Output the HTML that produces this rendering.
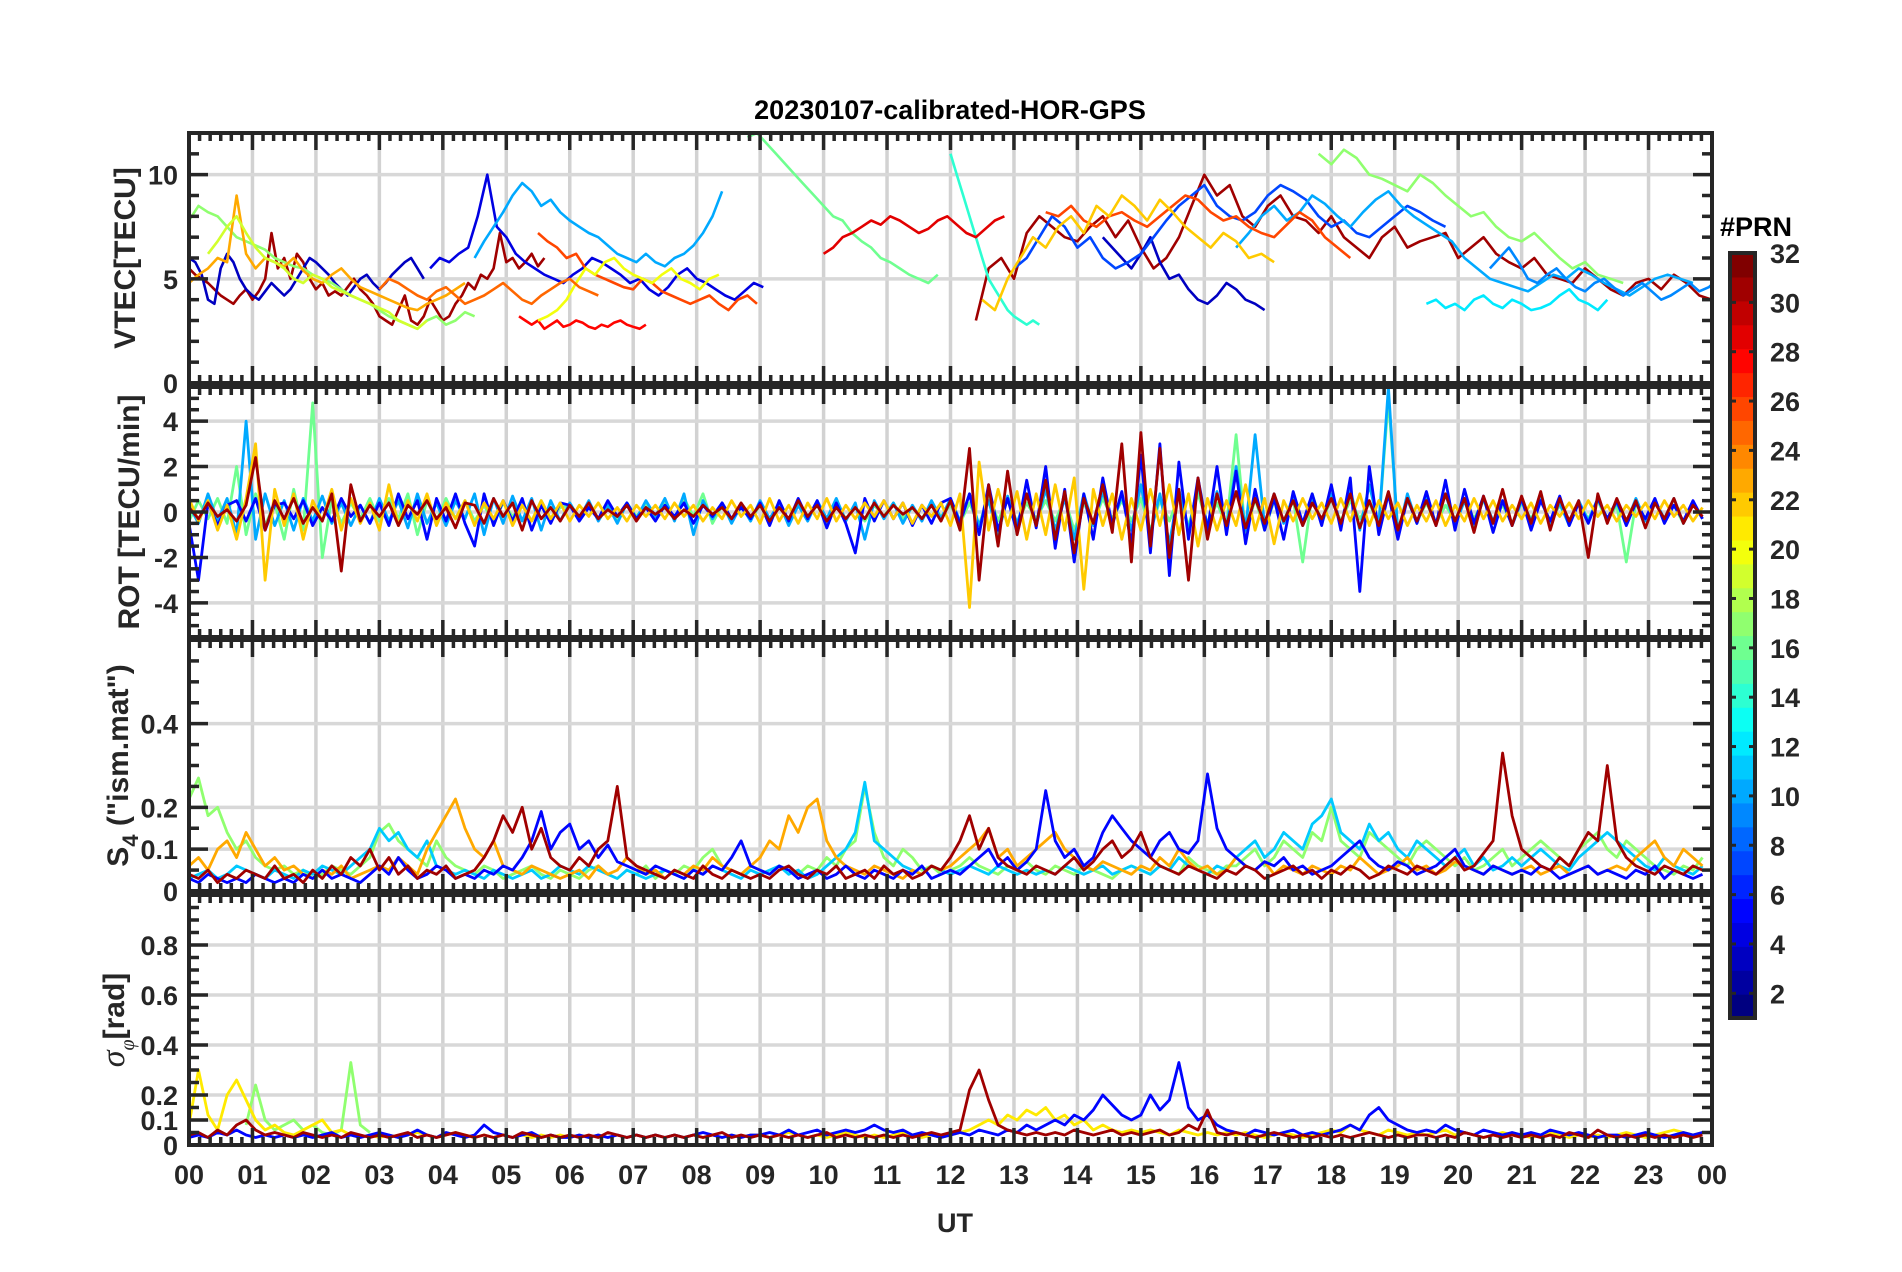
<!DOCTYPE html>
<html><head><meta charset="utf-8">
<style>
html,body{margin:0;padding:0;background:#fff;}
svg{display:block;font-family:"Liberation Sans",Arial,sans-serif;font-weight:bold;}
</style></head>
<body>
<svg id="fig" width="1902" height="1272" viewBox="0 0 1902 1272" xmlns="http://www.w3.org/2000/svg">
<rect width="1902" height="1272" fill="#fff"/>
<text x="950" y="119" font-size="27" text-anchor="middle" fill="#000">20230107-calibrated-HOR-GPS</text>
<g id="panels"></g>
<text x="955" y="1232" font-size="27" text-anchor="middle" fill="#262626">UT</text>
<text x="1720" y="236" font-size="27" fill="#000">#PRN</text>
<g id="cbar"></g>
</svg>
<script>
// ---------- data ----------
const hourTicks = [0,1,2,3,4,5,6,7,8,9,10,11,12,13,14,15,16,17,18,19,20,21,22,23,24];
const hourLabels = ["00","01","02","03","04","05","06","07","08","09","10","11","12","13","14","15","16","17","18","19","20","21","22","23","00"];
const vtecTicks = [0,5,10];
const rotTicks = [-4,-2,0,2,4];
const s4Ticks = [0,0.1,0.2,0.4];
const sigTicks = [0,0.1,0.2,0.4,0.6,0.8];
const cbarTicks = [2,4,6,8,10,12,14,16,18,20,22,24,26,28,30,32];

// VTEC tracks: PRN, start hour, step (h), values (tenths of TECU)
const vtecPrn = [31,31,3,4,3,7,10,10,17,17,16,23,26,26,28,14,12,20,22,19,9,29,25];
const vtecStart = [0,12.4,0,3.8,14.4,13,4.5,16.5,0,17.8,8.8,0,5.5,13.5,5.2,12,19.5,5.5,12.5,0.3,20.5,10,3];
const vtecStep = [0.1,0.2,0.1,0.15,0.15,0.2,0.15,0.2,0.15,0.2,0.15,0.15,0.15,0.2,0.1,0.1,0.15,0.15,0.2,0.15,0.15,0.15,0.15];
const vtec0 = [55,52,50,48,45,42,40,38,42,45,40,44,50,72,55,60,50,62,58,50,45,48,42,44,42,46,50,45,42,38,32,30,28,35,42,30,28,32,40,35,30,32,38,42,48,45,52,50,55,72,58,60,55,58,62,56,60];
const vtec1 = [30,55,60,50,72,80,75,70,68,75,80,70,78,65,55,60,70,85,100,90,95,80,75,85,90,80,78,72,80,70,65,60,70,75,65,68,70,72,60,65,70,62,58,55,60,52,50,48,55,50,45,42,48,50,45,52,48,42,40];
const vtec2 = [60,58,52,40,38,55,62,58,50,45,42,40,44,48,45,42,45,50,55,60,58,55,52,48,45,42,46,50,52,48,45,48,52,55,58,60,55,50];
const vtec3 = [55,60,58,62,65,80,100,75,70,62,58,55,52,50,48,52,55,60,58,55,52,48,50,45,42,46,52,55,50,48,45,42,40,44,48,46];
const vtec4 = [70,65,60,55,62,70,58,50,52,45,40,38,42,48,45,40,38,35];
const vtec5 = [55,60,70,80,75,65,70,60,55,58,62,70,78,85,90,95,85,80,78,82,90,95,92,88,80,75,78,72,70,75,80,85,82,78,75];
const vtec6 = [60,68,75,82,90,96,92,85,88,82,78,75,72,70,66,62,60,58,62,58,56,60,62,66,72,80,92];
const vtec7 = [65,72,80,85,78,82,90,86,80,75,82,88,92,85,80,76,72,68,60,55,50,48,46,44,48,52,50,55,52,48,45,42,46,50,52,50,48];
const vtec8 = [78,85,82,80,75,70,68,66,64,60,58,56,55,52,50,48,45,42,40,38,35,32,30,28,26,30,32,28,30,34,32];
const vtec9 = [110,105,112,108,100,98,95,92,100,96,90,85,80,82,75,70,68,72,66,60,55,58,52,50,48];
const vtec10 = [118,120,115,110,105,100,95,90,85,80,78,72,68,65,60,58,55,52,50,48,52];
const vtec11 = [48,52,55,60,58,90,62,55,60,58,56,60,54,50,48,52,55,50,46,44,42,40,38,36,35,38,40,42,45,48];
const vtec12 = [72,68,65,60,62,55,52,50,48,46,45,50,48,44,42,40,38,40,42,38,35,40,42,38];
const vtec13 = [82,80,85,78,75,80,82,78,75,80,85,90,88,82,78,80,75,72,70,76,82,78,70,65,60];
const vtec14 = [32,30,28,30,26,28,30,27,28,30,29,27,26,28,27,29,30,28,27,26,28];
const vtec15 = [110,100,90,80,70,60,50,45,40,35,32,30,28,30,28];
const vtec16 = [38,40,36,38,35,40,42,38,36,40,38,35,36,38,42,45,40,38,35,40];
const vtec17 = [30,32,35,40,48,55,52,58,60,55,52,50,48,52,55,50,48,45,50,52];
const vtec18 = [40,35,50,60,70,65,75,80,72,85,80,90,85,78,88,82,75,70,65,72,68,60,62,58];
const vtec19 = [62,68,75,80,72,65,60,58,55,50,48,52,50,46,44,42,40,38,36,34,30,28,26,30];
const vtec20 = [55,60,65,58,50,48,52,55,50,46,44,48,50,46,42,45,48,44,40,42,45,48,44,46,50];
const vtec21 = [62,65,70,72,75,78,76,80,78,75,72,74,78,80,76,72,70,74,78,80];
const vtec22 = [45,50,48,45,42,40,44,46,42,38,40,42,45,48,44,40,38,42,45,48,50,46,44,42];

// ROT series (tenths of TECU/min), full day, start 0 h, step 0.15 h
const rotPrn = [16,10,5,22,31];
const rotA = [-4,5,-3,6,-5,20,-10,8,-6,4,-12,10,-8,48,-20,6,-5,4,-3,6,-4,6,-3,8,-10,5,-4,6,-3,5,-4,3,-5,4,-2,3,-4,5,-3,2,3,-2,4,-3,2,-3,4,-2,3,-2,4,-3,6,-2,8,-5,3,-4,2,-3,3,-4,2,-3,4,-2,3,-5,4,-3,2,-4,3,-2,4,-3,2,-3,4,-2,3,-5,4,-6,8,-4,6,-5,4,-3,5,-4,6,-8,4,-5,6,-3,5,-4,6,-8,5,-4,7,-6,8,-5,4,-6,34,-10,6,-8,5,-4,6,-22,8,-5,6,-4,5,-3,4,-6,50,-8,5,-4,4,-5,3,-4,6,-3,5,-4,3,-5,4,-3,5,-4,3,-5,4,-3,5,-4,3,-22,4,-3,5,-4,3,-5,4,-3];
const rotE = [3,-5,8,-4,6,-10,40,-12,8,-6,5,-8,6,-4,7,-5,4,-6,3,-5,6,-4,5,-7,8,-5,4,-6,5,-3,8,-10,6,-5,7,-4,6,-8,5,-4,4,-3,5,-4,3,-5,4,-3,5,-2,6,-4,8,-10,5,-3,4,-5,3,-4,5,-3,4,-6,3,-4,5,-3,6,-4,4,-12,5,-3,4,-5,3,-4,5,-3,6,-4,8,-6,5,-10,7,-5,8,-6,10,-8,6,-12,8,-6,9,-5,7,-8,12,-10,8,-14,10,-8,12,-6,9,-7,20,-8,34,-6,8,-5,7,-6,5,-4,8,-6,10,-8,12,-6,55,-10,8,-5,6,-5,8,-6,5,-7,6,-4,5,-6,5,-4,6,-5,4,-6,5,-4,6,-3,4,-5,6,-4,5,-3,6,-5,4,-3];
const rotB = [-5,-30,4,-6,3,5,-4,6,-8,3,4,-3,5,-6,2,-4,6,-2,3,-5,4,-6,8,-3,5,-12,6,-4,8,-5,-15,8,-6,5,-4,6,-8,3,-5,4,3,-4,2,-3,5,-2,4,-3,2,-4,3,-2,4,-5,3,-2,4,-3,2,-3,4,-6,5,-4,6,-3,5,-7,4,-5,-18,6,-4,5,-3,4,-6,3,-5,4,6,-5,8,-10,12,-8,6,-9,14,-7,20,-16,10,-22,8,-12,15,-6,9,-14,25,-18,30,-28,22,-12,15,-8,20,-10,18,-14,10,-8,6,-12,9,-5,8,-6,12,-8,15,-35,20,-10,8,-12,6,-5,9,-6,14,-8,10,-5,7,-9,5,-6,6,-8,5,-4,7,-6,4,-5,6,-3,5,-6,4,-3,6,-5,3,-4,5,-3];
const rotC = [6,-4,5,-8,3,-12,6,30,-30,10,-6,8,-12,5,-4,10,-8,6,-5,4,-8,12,-6,5,-4,8,-6,4,-3,5,-6,4,-3,5,-6,3,-4,5,-3,4,-4,3,-2,4,-3,2,-4,3,-2,3,-3,4,-2,3,-4,2,-3,5,-2,3,-5,6,-4,3,-5,4,-3,6,-4,3,-3,4,-2,5,-3,4,-5,3,-2,4,-6,8,-42,22,-8,10,-6,9,-12,8,-10,12,-8,15,-34,10,-6,8,-12,6,-8,10,-6,12,-10,8,-15,6,-8,5,-6,12,-8,6,-14,5,-4,6,-3,4,-5,6,-4,8,-6,5,-3,4,-6,3,-4,5,-6,3,-4,6,-3,5,-4,3,-3,4,-5,3,-2,4,-3,5,-2,3,-4,3,-2,4,-3,5,-2,3,-4,2];
const rotD = [2,-3,4,-2,1,-4,3,24,-8,5,-3,6,-5,2,-4,8,-26,12,-4,3,-2,4,-6,3,-1,5,-3,2,-7,4,3,-5,6,-2,4,-8,5,-3,2,-4,3,-2,4,-3,1,-2,3,-4,2,-1,2,-3,1,-2,3,-1,2,-3,4,-2,3,-4,2,-3,5,-2,3,-4,2,-3,2,-3,4,-2,3,-1,2,-3,3,-4,5,-8,28,-30,12,-15,18,-10,8,-6,14,-12,9,-18,6,-5,12,-9,30,-22,35,-15,28,-20,10,-30,15,-12,8,-6,9,-7,6,-5,8,-4,5,-6,4,-3,6,-5,8,-7,5,-6,9,-8,6,-4,5,-6,8,-4,6,-9,7,-5,10,-6,7,-5,9,-8,6,-4,5,-20,8,-5,6,-4,5,-7,4,-3,6,-5,3,-2];

// S4 series (hundredths), start 0 h, step 0.15 h
const s4Prn = [17,11,23,5,31];
const s4A = [22,27,18,20,14,10,12,8,6,5,6,4,5,3,4,6,5,4,6,8,14,16,12,10,8,6,12,8,6,5,4,6,5,3,4,5,6,4,3,5,4,3,5,6,4,3,5,4,6,3,5,4,6,5,8,10,6,5,4,6,5,4,6,5,4,6,5,8,6,10,12,25,14,8,6,10,8,5,6,4,5,6,8,6,5,4,6,5,7,5,4,6,5,4,6,5,4,3,5,6,5,4,6,5,4,8,6,5,4,6,6,8,10,6,8,12,10,8,14,12,20,12,10,8,14,12,10,8,6,10,12,10,8,6,8,5,6,8,10,6,8,10,12,10,8,6,10,12,14,10,8,12,10,8,6,5,4,6,5,8];
const s4E = [3,4,5,3,4,6,5,4,3,5,4,3,5,4,6,5,4,6,8,10,15,12,14,10,8,12,6,5,4,5,4,3,5,4,3,4,5,3,4,6,5,4,6,5,4,3,5,4,3,4,5,4,3,5,4,6,5,4,3,5,4,5,6,4,5,3,4,6,8,10,14,26,12,10,8,6,5,4,6,5,4,5,6,5,4,6,5,4,5,4,5,4,6,5,4,5,6,4,5,6,5,4,6,5,8,6,5,4,6,5,8,10,12,8,10,14,12,10,16,18,22,14,12,10,16,12,14,10,8,12,10,8,6,8,10,6,8,5,6,8,6,8,10,8,6,5,8,10,12,14,12,10,8,6,5,8,6,5,4,6];
const s4B = [6,8,5,10,12,8,14,10,6,8,5,6,4,3,5,4,6,3,4,5,6,5,8,6,4,10,14,18,22,15,10,8,12,6,5,4,6,5,4,3,4,5,3,6,4,5,8,6,4,5,3,5,4,6,5,8,6,5,4,6,8,12,10,18,14,20,22,12,8,6,5,4,6,5,4,3,5,4,6,5,6,8,10,12,15,8,10,6,8,10,12,14,10,8,6,5,7,6,5,4,6,5,8,6,10,7,5,6,4,5,8,6,5,7,4,6,5,4,6,5,4,6,5,8,6,4,5,6,8,5,6,4,5,7,6,5,4,6,5,4,5,6,4,5,6,4,5,6,4,5,6,5,8,10,12,8,6,10,8,6];
const s4C = [3,2,4,3,2,3,2,4,3,2,3,2,4,3,5,3,4,3,2,4,6,4,8,5,3,4,6,5,3,4,3,5,4,6,5,8,12,19,10,14,16,10,12,8,11,7,6,5,4,6,5,4,3,5,4,6,5,8,12,6,5,4,6,5,3,4,5,3,4,6,4,3,5,4,3,5,4,6,3,4,5,4,6,8,10,6,8,5,7,10,24,12,8,10,6,8,14,18,15,12,10,8,12,14,10,9,12,28,15,10,8,6,5,7,6,8,5,6,4,5,6,8,10,12,8,6,5,7,6,4,5,6,8,10,6,5,4,6,5,4,5,4,6,5,3,4,5,6,4,5,4,3,5,4,6,3,5,4,3,4];
const s4D = [4,3,5,2,4,3,5,4,3,6,3,4,2,5,3,6,4,8,6,10,5,8,4,6,3,5,4,6,3,4,5,8,12,18,14,20,10,15,8,6,5,8,6,10,12,25,8,6,5,4,3,5,4,3,6,4,3,5,4,3,4,3,5,6,4,3,5,4,6,3,4,5,3,6,4,5,3,4,6,5,8,12,18,10,15,8,6,5,4,6,5,4,6,8,5,7,10,12,8,10,14,8,6,5,4,6,5,4,3,5,4,6,5,3,4,5,6,4,5,3,5,4,6,5,3,4,6,5,4,6,5,4,6,8,5,6,9,12,33,18,10,8,6,5,8,6,10,14,12,30,12,8,6,5,4,6,5,4,6,5];

// sigma_phi series (hundredths), start 0 h, step 0.15 h
const sigPrn = [21,5,31];
const sigA = [8,30,12,6,20,26,18,10,6,8,5,4,6,8,10,5,6,4,3,4,3,4,3,4,5,4,3,4,5,4,3,4,3,4,3,4,3,4,3,4,3,4,3,4,3,4,3,4,3,4,3,4,3,4,3,4,3,4,3,4,4,3,4,5,4,3,4,3,4,5,4,3,4,3,4,5,4,3,4,3,4,5,6,8,10,8,12,10,14,12,15,10,12,8,10,6,8,6,5,6,5,6,5,4,6,5,4,5,4,5,4,5,4,3,4,5,4,3,4,5,6,5,8,6,5,4,6,5,4,5,4,5,6,4,5,4,3,4,5,4,4,3,4,5,4,3,4,3,4,3,4,5,4,3,4,5,6,5,4,5];
const sigB = [3,4,3,5,4,6,4,3,4,3,4,3,4,3,4,5,3,4,3,4,5,4,3,4,6,4,3,5,4,3,4,8,5,4,3,4,5,3,4,3,3,4,3,4,3,4,3,4,3,4,3,4,3,4,5,4,3,4,3,4,4,5,4,6,4,5,6,4,5,6,5,6,8,6,5,6,4,5,4,3,4,5,4,6,5,4,6,5,8,6,8,10,8,12,10,14,20,16,12,10,12,20,14,18,33,15,10,12,8,6,5,4,6,5,4,5,6,4,5,4,5,6,8,6,12,15,10,8,6,5,6,5,8,6,5,4,6,5,4,5,4,5,4,6,5,4,5,4,3,4,4,3,4,5,4,3,4,5,4,5];
const sigC = [4,5,3,6,4,8,10,6,4,5,4,3,5,4,3,4,3,5,4,3,4,3,4,5,3,4,3,4,5,4,3,4,3,4,3,5,4,3,4,3,4,3,4,3,5,4,3,4,3,4,3,4,3,4,3,4,5,3,4,3,4,3,4,3,4,3,4,5,3,4,3,4,3,4,3,4,3,4,5,4,5,6,22,30,18,8,6,5,4,5,4,5,4,6,5,4,5,6,4,5,4,5,6,4,5,8,6,14,5,4,5,4,3,4,5,4,3,4,3,4,3,4,3,4,5,4,3,4,3,4,4,3,4,3,5,4,3,4,3,4,3,4,3,4,3,5,4,3,6,4,3,4,3,4,3,4,3,4,3,4];
const sigShortPrn = 17;
const sigShortStart = 0.9;
const sigShort = [8,24,10,6,8,10,6,8,5,4,6,33,8,5];

// ---------- drawing ----------
const NS = "http://www.w3.org/2000/svg";
const X0 = 189, X1 = 1712;
const xs = h => X0 + (X1 - X0) * h / 24;
function jet(k){
  const t=(k-1)/31;
  const c=v=>Math.round(255*Math.max(0,Math.min(1,v)));
  return `rgb(${c(1.5-Math.abs(4*t-3))},${c(1.5-Math.abs(4*t-2))},${c(1.5-Math.abs(4*t-1))})`;
}
function mk(tag, attrs, parent){
  const e=document.createElementNS(NS,tag);
  for(const k in attrs) e.setAttribute(k,attrs[k]);
  parent.appendChild(e); return e;
}
const panelsG = document.getElementById('panels');

const panels = [
 {name:'vtec', top:133, bot:383, min:0, max:12, ticks:vtecTicks, minor:1, label:'VTEC[TECU]', lx:125, sw:2.6},
 {name:'rot', top:387, bot:637, min:-5.5, max:5.5, ticks:rotTicks, minor:0.5, label:'ROT [TECU/min]', lx:129, sw:2.8},
 {name:'s4', top:640, bot:891, min:0, max:0.6, ticks:s4Ticks, minor:0.05, label:'s4', lx:118, sw:2.8},
 {name:'sigma', top:895, bot:1145, min:0, max:1.0, ticks:sigTicks, minor:0.05, label:'sig', lx:114, sw:2.8}
];

function drawPanel(p, seriesFn){
  const g = mk('g',{},panelsG);
  
  
  const ys = v => p.bot - (p.bot-p.top)*(v-p.min)/(p.max-p.min);
  for(const h of hourTicks){ if(h===0||h===24) continue;
    const l = mk('line',{x1:xs(h),x2:xs(h),y1:p.top,y2:p.bot,stroke:'#d2d2d2','stroke-width':3.5},g);
    
    
  }
  for(const v of p.ticks){
    const l = mk('line',{x1:X0,x2:X1,y1:ys(v),y2:ys(v),stroke:'#d8d8d8','stroke-width':3.5},g);
    
    
  }
  const clip = mk('clipPath',{id:'clip-'+p.name},g);
  mk('rect',{x:X0,y:p.top,width:X1-X0,height:p.bot-p.top},clip);
  const sg = mk('g',{'clip-path':'url(#clip-'+p.name+')'},g);
  seriesFn(sg, ys, p.sw);
  const tk = mk('g',{stroke:'#262626','stroke-width':3.5,fill:'none'},g);
  for(let m=0;m<=24*6;m++){
    const h=m/6, major=(m%6===0), L=major?17:8, x=xs(h);
    mk('line',{x1:x,x2:x,y1:p.top,y2:p.top+L},tk);
    mk('line',{x1:x,x2:x,y1:p.bot,y2:p.bot-L},tk);
  }
  const start = Math.ceil(p.min/p.minor-1e-9);
  for(let i=start;i*p.minor<=p.max+1e-9;i++){
    const v=i*p.minor; const y=ys(v);
    const major = p.ticks.some(t=>Math.abs(t-v)<1e-6);
    const L = major?19:10;
    mk('line',{x1:X0,x2:X0+L,y1:y,y2:y},tk);
    mk('line',{x1:X1,x2:X1-L,y1:y,y2:y},tk);
  }
  const fr = mk('rect',{x:X0,y:p.top,width:X1-X0,height:p.bot-p.top,fill:'none',stroke:'#262626','stroke-width':4},g);
  
  
  for(const v of p.ticks){
    const t = mk('text',{x:178,y:ys(v)+10,'font-size':27,'text-anchor':'end',fill:'#262626'},g);
    t.textContent = String(v);
    
    
  }
  const cy=(p.top+p.bot)/2;
  const t = mk('text',{x:0,y:0,'font-size':30,'text-anchor':'middle',fill:'#262626',transform:`translate(${p.lx+10},${cy}) rotate(-90)`},g);
  
  
  if(p.label==='s4'){
    t.innerHTML = 'S<tspan font-size="22" dy="10">4</tspan><tspan dy="-10"> ("ism.mat")</tspan>';
  } else if(p.label==='sig'){
    t.innerHTML = '<tspan font-family="Liberation Serif" font-style="italic" font-weight="normal" font-size="34">σ</tspan><tspan font-size="20" dy="10" font-family="Liberation Serif" font-style="italic" font-weight="normal">φ</tspan><tspan dy="-10">[rad]</tspan>';
  } else t.textContent = p.label;
  return g;
}

function poly(sg, prn, t0, dt, vals, scale, ys, name, sw){
  const pts = vals.map((v,i)=>xs(t0+i*dt).toFixed(1)+','+ys(v*scale).toFixed(1)).join(' ');
  const pl = mk('polyline',{points:pts,fill:'none',stroke:jet(prn),'stroke-width':sw,'stroke-linejoin':'round'},sg);
  
  
}

const vtecVals=[vtec0,vtec1,vtec2,vtec3,vtec4,vtec5,vtec6,vtec7,vtec8,vtec9,vtec10,vtec11,vtec12,vtec13,vtec14,vtec15,vtec16,vtec17,vtec18,vtec19,vtec20,vtec21,vtec22];
drawPanel(panels[0],(sg,ys,sw)=>{
  vtecVals.forEach((vals,i)=>poly(sg,vtecPrn[i],vtecStart[i],vtecStep[i],vals,0.1,ys,'vtec-line',sw));
});
const rotVals=[rotA,rotE,rotB,rotC,rotD];
drawPanel(panels[1],(sg,ys,sw)=>{
  rotVals.forEach((vals,i)=>poly(sg,rotPrn[i],0,0.15,vals,0.1,ys,'rot-line',sw));
});
const s4Vals=[s4A,s4E,s4B,s4C,s4D];
drawPanel(panels[2],(sg,ys,sw)=>{
  s4Vals.forEach((vals,i)=>poly(sg,s4Prn[i],0,0.15,vals,0.01,ys,'s4-line',sw));
});
const sigVals=[sigA,sigB,sigC];
drawPanel(panels[3],(sg,ys,sw)=>{
  poly(sg,sigShortPrn,sigShortStart,0.15,sigShort,0.01,ys,'sigma-line',sw);
  sigVals.forEach((vals,i)=>poly(sg,sigPrn[i],0,0.15,vals,0.01,ys,'sigma-line',sw));
});

const xl = mk('g',{},panelsG);


hourTicks.forEach((h,i)=>{
  const t=mk('text',{x:xs(h),y:1184,'font-size':27,'text-anchor':'middle',fill:'#262626'},xl);
  t.textContent=hourLabels[i];
  
  
});

const cb = document.getElementById('cbar');


const CB_T=253, CB_B=1018, CB_L=1730, CB_R=1755;
const cys = v => CB_B - (CB_B-CB_T)*(v-1)/31;
const segH=(CB_B-CB_T)/32;
for(let k=1;k<=32;k++){
  const r=mk('rect',{x:CB_L,y:CB_B-k*segH,width:CB_R-CB_L,height:segH+0.6,fill:jet(k)},cb);
  
  
}
mk('rect',{x:CB_L,y:CB_T,width:CB_R-CB_L,height:CB_B-CB_T,fill:'none',stroke:'#262626','stroke-width':4},cb);
for(const v of cbarTicks){
  const y=cys(v);
  mk('line',{x1:CB_L,x2:CB_L+6,y1:y,y2:y,stroke:'#262626','stroke-width':3},cb);
  mk('line',{x1:CB_R,x2:CB_R-6,y1:y,y2:y,stroke:'#262626','stroke-width':3},cb);
  const t=mk('text',{x:1770,y:y+10,'font-size':27,fill:'#262626'},cb);
  t.textContent=String(v);
  
  
}
</script>
</body></html>
